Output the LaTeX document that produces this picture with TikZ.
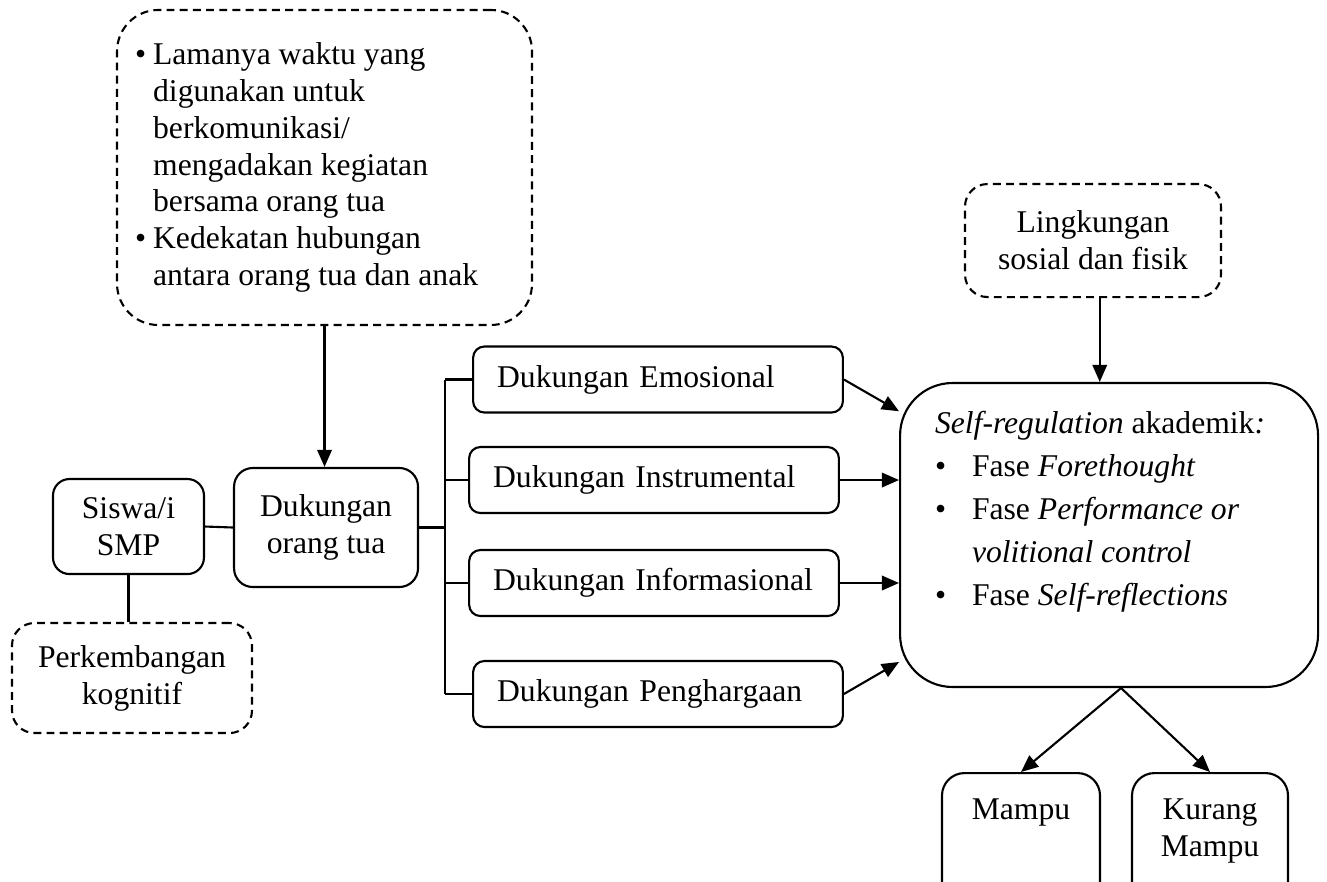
\documentclass[tikz,border=0pt]{standalone}
\usepackage{fontspec}
\setmainfont{Liberation Serif}
\usepackage{tikz}
\usetikzlibrary{arrows.meta}

\begin{document}
\begin{tikzpicture}[line width=0.8pt,
  font=\fontsize{12}{14}\selectfont,
  box/.style={draw,rounded corners=0.2cm,align=center,inner sep=0pt},
  dbox/.style={box,dash pattern=on 3pt off 2pt},
  sbox/.style={box,rounded corners=0.15cm,align=left,inner xsep=0.32cm,text width=4.29cm,minimum height=0.88cm},
  arr/.style={-{Triangle[length=6.5pt,width=5.5pt]}}]
\useasboundingbox (0,0) rectangle (17.693,-11.747);
\node[dbox,rounded corners=0.55cm,minimum width=5.533cm,minimum height=4.2cm] (waktu) at (4.327,-2.233) {\begin{minipage}{5.05cm}
\makebox[0.24cm][l]{\textbullet}Lamanya waktu yang\\
\hspace*{0.24cm}digunakan untuk\\
\hspace*{0.24cm}berkomunikasi/\\
\hspace*{0.24cm}mengadakan kegiatan\\
\hspace*{0.24cm}bersama orang tua\\
\makebox[0.24cm][l]{\textbullet}Kedekatan hubungan\\
\hspace*{0.24cm}antara orang tua dan anak
\end{minipage}};
\node[box,rounded corners=0.22cm,minimum width=2.013cm,minimum height=1.267cm] (siswa) at (1.713,-7.02) {Siswa/i\\SMP};
\node[box,rounded corners=0.25cm,minimum width=2.453cm,minimum height=1.587cm] (dukungan) at (4.347,-7.033) {Dukungan\\orang tua};
\node[dbox,rounded corners=0.3cm,minimum width=3.2cm,minimum height=1.467cm] (kognitif) at (1.76,-9.04) {Perkembangan\\kognitif};
\node[sbox] (emo) at (8.773,-5.06) {Dukungan Emosional};
\node[sbox] (instr) at (8.72,-6.4) {Dukungan Instrumental};
\node[sbox] (info) at (8.72,-7.773) {Dukungan Informasional};
\node[sbox] (pengh) at (8.773,-9.253) {Dukungan Penghargaan};
\node[box,rounded corners=0.7cm,minimum width=5.573cm,minimum height=4.053cm] (srl) at (14.787,-7.133) {\begin{minipage}[t][3.3cm][t]{4.64cm}\fontsize{12}{16.3}\selectfont
\textit{Self-regulation} akademik\textit{:}\\
\makebox[0.493cm][l]{\textbullet}Fase \textit{Forethought}\\
\makebox[0.493cm][l]{\textbullet}Fase \textit{Performance or}\\
\hspace*{0.493cm}\textit{volitional control}\\
\makebox[0.493cm][l]{\textbullet}Fase \textit{Self-reflections}
\end{minipage}};
\node[dbox,rounded corners=0.3cm,minimum width=3.413cm,minimum height=1.507cm] (lingkungan) at (14.573,-3.207) {Lingkungan\\sosial dan fisik};
\node[box,rounded corners=0.3cm,minimum width=2.107cm,minimum height=1.76cm] (mampu) at (13.613,-11.187) {\begin{minipage}[t][1.08cm][t]{2cm}\centering Mampu\end{minipage}};
\node[box,rounded corners=0.3cm,minimum width=2.08cm,minimum height=1.76cm] (kurang) at (16.133,-11.187) {\begin{minipage}[t][1.08cm][t]{2cm}\centering Kurang\\Mampu\end{minipage}};
\coordinate (bus) at (5.933,-7.08);
\coordinate (apex) at ([xshift=0.16cm]srl.south);
\draw[arr] (waktu.south) -- (waktu.south |- dukungan.north);
\draw (siswa.east) -- (dukungan.west);
\draw (siswa.south) -- (siswa.south |- kognitif.north);
\draw (dukungan.east) -- (dukungan.east -| bus);
\draw (bus |- emo.west) -- (bus |- pengh.west);
\draw (bus |- emo.west) -- (emo.west);
\draw (bus |- instr.west) -- (instr.west);
\draw (bus |- info.west) -- (info.west);
\draw (bus |- pengh.west) -- (pengh.west);
\draw[arr] (emo.east) -- ([yshift=1.65cm]srl.west);
\draw[arr] (instr.east) -- (instr.east -| srl.west);
\draw[arr] (info.east) -- (info.east -| srl.west);
\draw[arr] (pengh.east) -- ([yshift=-1.693cm]srl.west);
\draw[arr] ([xshift=0.09cm]lingkungan.south) -- ([xshift=0.09cm]lingkungan.south |- srl.north);
\draw[arr] (apex) -- (mampu.north);
\draw[arr] (apex) -- (kurang.north);
\end{tikzpicture}
\end{document}
